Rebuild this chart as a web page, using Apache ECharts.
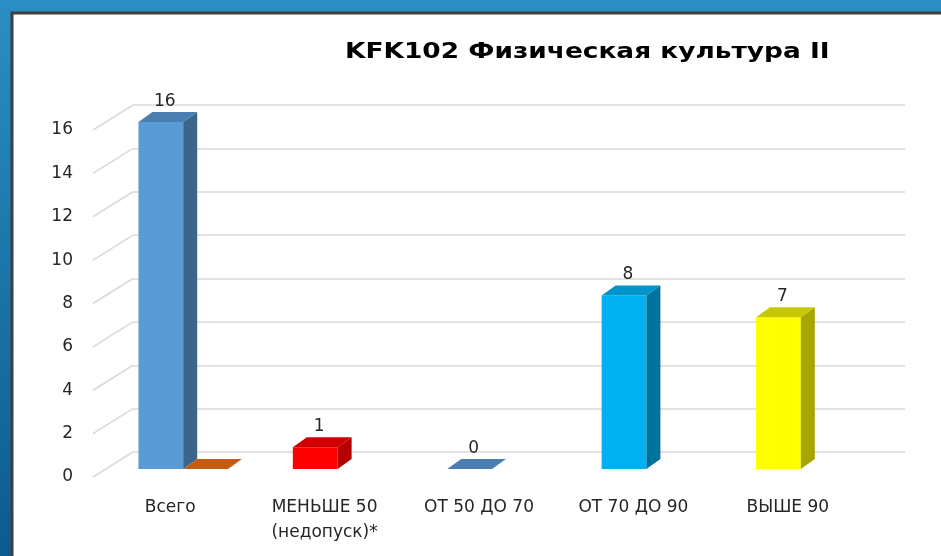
<!DOCTYPE html>
<html>
<head>
<meta charset="utf-8">
<script src="https://cdn.jsdelivr.net/npm/echarts@6/dist/echarts.min.js"></script>
<style>
  html, body { margin: 0; padding: 0; }
  #main { width: 941px; height: 556px; }
</style>
</head>
<body>
<div id="main"></div>
<script>
var chartTitle = 'KFK102 Физическая культура II';
var categories = ['Всего', 'МЕНЬШЕ 50\n(недопуск)*', 'ОТ 50 ДО 70', 'ОТ 70 ДО 90', 'ВЫШЕ 90'];
var mainValues = [16, 1, 0, 8, 7];
var extraValues = [0, null, null, null, null];
var yTicks = [0, 2, 4, 6, 8, 10, 12, 14, 16];

// front / side / top colours of each column
var faceColors = [
    ['#5B9BD5', '#3C6589', '#4A7DB0'],
    ['#FF0000', '#B50000', '#D00000'],
    ['#5B9BD5', '#3C6589', '#4A7DB0'],
    ['#00B0F0', '#00739C', '#0094CA'],
    ['#FFFF00', '#A6A600', '#C8C800']
];
var extraColors = ['#D06A28', '#A04710', '#C55A11'];

// 3d depth offsets
var FX = 13, FY = -8, BX = 27, BY = -18;

var myChart = echarts.init(document.getElementById('main'));

var barData = [];
mainValues.forEach(function (v, i) { barData.push([i, v, 0]); });
extraValues.forEach(function (v, i) { if (v !== null) barData.push([i, v, 1]); });

function renderBar(params, api) {
    var i = api.value(0), v = api.value(1), slot = api.value(2);
    var base = api.coord([i, 0]);
    var top = api.coord([i, v]);
    var w = api.size([1, 0])[0] * 0.29;
    var x0 = slot === 0 ? base[0] - w : base[0];
    var cols = slot === 0 ? faceColors[i] : extraColors;
    var yT = top[1], yB = base[1];
    var children = [];
    if (v > 0) {
        children.push({
            type: 'rect',
            shape: { x: x0 + FX, y: yT + FY, width: w, height: yB - yT },
            style: { fill: cols[0] }
        });
        children.push({
            type: 'polygon',
            shape: { points: [[x0 + w + FX, yT + FY], [x0 + w + BX, yT + BY], [x0 + w + BX, yB + BY], [x0 + w + FX, yB + FY]] },
            style: { fill: cols[1] }
        });
    }
    children.push({
        type: 'polygon',
        shape: { points: [[x0 + FX, yT + FY], [x0 + w + FX, yT + FY], [x0 + w + BX, yT + BY], [x0 + BX, yT + BY]] },
        style: { fill: cols[2] }
    });
    if (slot === 0) {
        children.push({
            type: 'text',
            style: {
                x: x0 + FX + w / 2 + 4, y: yT + BY - 2,
                text: String(v),
                align: 'center', verticalAlign: 'bottom',
                font: '17px "DejaVu Sans"', fill: '#262626'
            }
        });
    }
    return { type: 'group', children: children };
}

function renderTick(params, api) {
    var p = api.coord([0, api.value(0)]);
    var x = params.coordSys.x;
    return {
        type: 'line',
        shape: { x1: x, y1: p[1], x2: x + 40, y2: p[1] - 25 },
        style: { stroke: '#D9D9D9', lineWidth: 1.5 }
    };
}

option = {
    backgroundColor: {
        type: 'linear', x: 0, y: 0, x2: 0, y2: 1,
        colorStops: [{ offset: 0, color: '#2B8EC2' }, { offset: 1, color: '#0C5A93' }]
    },
    animation: false,
    graphic: [{
        type: 'rect',
        z: -10,
        shape: { x: 12, y: 13, width: 940, height: 560 },
        style: { fill: '#FFFFFF', stroke: '#3F3F3F', lineWidth: 3 }
    }, {
        // title text, stretched wide like the original
        type: 'text',
        x: 345, y: 52,
        scaleX: 1.2,
        style: {
            text: chartTitle,
            font: 'bold 22px "DejaVu Sans"',
            fill: '#000',
            verticalAlign: 'middle'
        }
    }],
    grid: [
        { left: 133, right: 36, top: 105, bottom: 104 },
        { left: 93, right: 76, top: 130, bottom: 79 }
    ],
    xAxis: [{
        gridIndex: 0, type: 'category', data: categories,
        axisLine: { show: false }, axisTick: { show: false }, axisLabel: { show: false }
    }, {
        gridIndex: 1, type: 'category', data: categories,
        axisLine: { show: false }, axisTick: { show: false },
        axisLabel: {
            margin: 18, color: '#262626', fontFamily: 'DejaVu Sans', fontSize: 17, lineHeight: 25,
            verticalAlign: 'top'
        }
    }],
    yAxis: [{
        gridIndex: 0, type: 'value', min: 0, max: 16, interval: 2,
        axisLabel: { show: false },
        splitLine: { lineStyle: { color: '#D9D9D9', width: 1.5 } }
    }, {
        gridIndex: 1, type: 'value', min: 0, max: 16, interval: 2,
        splitLine: { show: false },
        axisLabel: { margin: 20, color: '#262626', fontFamily: 'DejaVu Sans', fontSize: 17 }
    }],
    series: [{
        type: 'custom',
        xAxisIndex: 1, yAxisIndex: 1,
        data: yTicks.map(function (t) { return [t]; }),
        encode: { y: 0 },
        renderItem: renderTick,
        silent: true
    }, {
        type: 'custom',
        xAxisIndex: 1, yAxisIndex: 1,
        data: barData,
        encode: { x: 0, y: 1 },
        renderItem: renderBar
    }]
};

myChart.setOption(option);
</script>
</body>
</html>
